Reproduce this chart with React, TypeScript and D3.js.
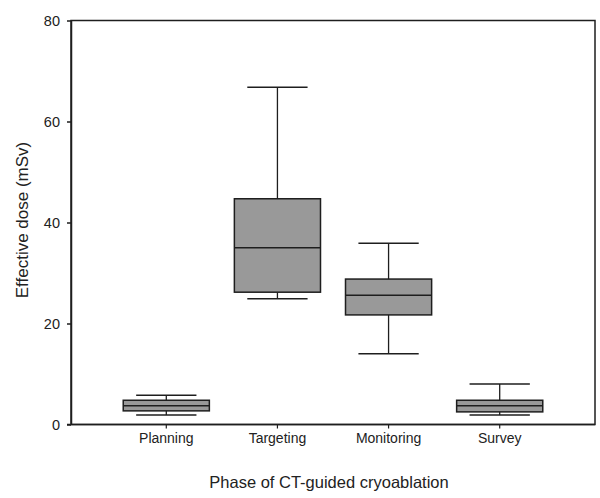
import React, { useEffect, useRef } from 'react';
import * as d3 from 'd3';

// phases on the x axis
const phases = ['Planning', 'Targeting', 'Monitoring', 'Survey'];
// five-number summaries (mSv)
const whiskerLow = [1.9, 24.9, 14.0, 1.9];
const quartile1 = [2.7, 26.2, 21.7, 2.5];
const medians = [3.7, 35.0, 25.6, 3.7];
const quartile3 = [4.8, 44.7, 28.8, 4.8];
const whiskerHigh = [5.8, 66.8, 35.9, 8.0];
const yTicks = [0, 20, 40, 60, 80];

type BoxRow = { phase: string; lo: number; q1: number; med: number; q3: number; hi: number };

export default function App() {
  const svgRef = useRef<SVGSVGElement | null>(null);

  useEffect(() => {
    if (!svgRef.current) return;
    const svg = d3.select(svgRef.current);
    svg.selectAll('*').remove();

    const width = 600;
    const height = 498;
    const margin = { top: 20.5, right: 5, bottom: 73.5, left: 71 };
    const font = 'Liberation Sans, Arial, sans-serif';
    const ink = '#1e1e1e';

    const rows: BoxRow[] = phases.map((p, i) => ({
      phase: p,
      lo: whiskerLow[i],
      q1: quartile1[i],
      med: medians[i],
      q3: quartile3[i],
      hi: whiskerHigh[i],
    }));

    const x = d3.scaleBand().domain(phases).range([margin.left, width - margin.right]).paddingInner(0.225).paddingOuter(0.47);
    const y = d3.scaleLinear().domain([0, 80]).range([height - margin.bottom, margin.top]);

    const bw = x.bandwidth();
    const capW = bw * 0.7;

    // frame (top + right)
    svg.append('rect')
      .attr('x', margin.left)
      .attr('y', margin.top)
      .attr('width', width - margin.right - margin.left)
      .attr('height', height - margin.bottom - margin.top)
      .attr('fill', 'none')
      .attr('stroke', ink)
      .attr('stroke-width', 1.5);

    // y axis
    const yAxis = svg.append('g')
      .attr('transform', `translate(${margin.left}, 0)`)
      .call(d3.axisLeft(y).tickValues(yTicks).tickSize(4).tickPadding(7).tickSizeOuter(0));
    yAxis.select('.domain').attr('stroke', ink).attr('stroke-width', 1.5);
    yAxis.selectAll('line').attr('stroke', ink).attr('stroke-width', 1.5);
    yAxis.selectAll('text').attr('font-family', font).attr('font-size', 14.5).attr('fill', '#222');

    // x axis
    const xAxis = svg.append('g')
      .attr('transform', `translate(0, ${height - margin.bottom})`)
      .call(d3.axisBottom(x).tickSize(4).tickPadding(5).tickSizeOuter(0));
    xAxis.select('.domain').attr('stroke', ink).attr('stroke-width', 1.5).attr('d', `M${margin.left - 4},0H${width - margin.right}`);
    xAxis.selectAll('line').attr('stroke', ink).attr('stroke-width', 1.2);
    xAxis.selectAll('text').attr('font-family', font).attr('font-size', 14).attr('fill', '#222');

    // boxes
    const g = svg.selectAll('.box')
      .data(rows)
      .join('g')
      .attr('class', 'box')
      .attr('transform', (d) => `translate(${(x(d.phase) ?? 0) + bw / 2}, 0)`);

    g.append('line')
      .attr('x1', 0).attr('x2', 0)
      .attr('y1', (d) => y(d.hi)).attr('y2', (d) => y(d.q3))
      .attr('stroke', ink).attr('stroke-width', 1.3);
    g.append('line')
      .attr('x1', 0).attr('x2', 0)
      .attr('y1', (d) => y(d.q1)).attr('y2', (d) => y(d.lo))
      .attr('stroke', ink).attr('stroke-width', 1.3);
    g.append('line')
      .attr('x1', -capW / 2).attr('x2', capW / 2)
      .attr('y1', (d) => y(d.hi)).attr('y2', (d) => y(d.hi))
      .attr('stroke', ink).attr('stroke-width', 1.5);
    g.append('line')
      .attr('x1', -capW / 2).attr('x2', capW / 2)
      .attr('y1', (d) => y(d.lo)).attr('y2', (d) => y(d.lo))
      .attr('stroke', ink).attr('stroke-width', 1.5);

    g.append('rect')
      .attr('x', -bw / 2)
      .attr('width', bw)
      .attr('y', (d) => y(d.q3))
      .attr('height', (d) => y(d.q1) - y(d.q3))
      .attr('fill', '#999999')
      .attr('stroke', ink)
      .attr('stroke-width', 1.5);

    g.append('line')
      .attr('x1', -bw / 2).attr('x2', bw / 2)
      .attr('y1', (d) => y(d.med)).attr('y2', (d) => y(d.med))
      .attr('stroke', ink).attr('stroke-width', 1.5);

    // axis titles
    svg.append('text')
      .attr('transform', `translate(22, 220) rotate(-90)`)
      .attr('text-anchor', 'middle')
      .attr('dy', '0.35em')
      .attr('font-family', font)
      .attr('font-size', 17)
      .attr('fill', '#222')
      .text('Effective dose (mSv)');

    svg.append('text')
      .attr('x', (margin.left + width - margin.right) / 2 - 4)
      .attr('y', 482)
      .attr('text-anchor', 'middle')
      .attr('dy', '0.35em')
      .attr('font-family', font)
      .attr('font-size', 16.5)
      .attr('fill', '#222')
      .text('Phase of CT-guided cryoablation');
  }, []);

  return (
    <div style={{ position: 'absolute', left: 0, top: 0 }}>
      <svg ref={svgRef} width={600} height={498} style={{ display: 'block', background: '#fff' }}></svg>
    </div>
  );
}
